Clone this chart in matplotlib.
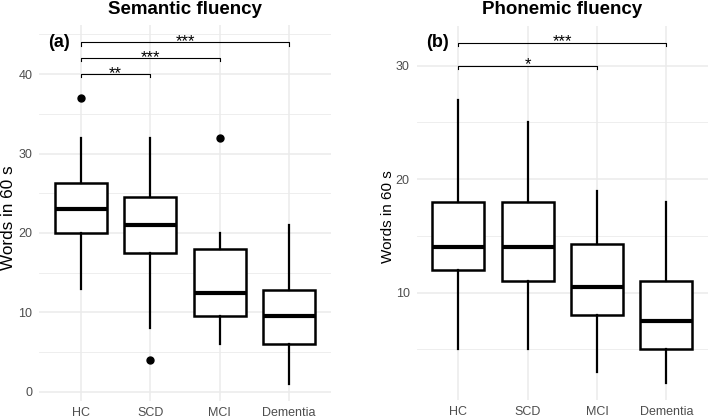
import matplotlib
matplotlib.use("Agg")
import matplotlib.pyplot as plt

plt.rcParams["font.family"] = ["Liberation Sans", "DejaVu Sans"]

groups = ["HC", "SCD", "MCI", "Dementia"]

# semantic fluency: box stats
sem_whislo = [13, 8, 6, 1]
sem_q1 = [20, 17.5, 9.5, 6]
sem_med = [23, 21, 12.5, 9.5]
sem_q3 = [26.3, 24.5, 18, 12.8]
sem_whishi = [32, 32, 20, 21]
sem_fliers = [[37], [4], [32], []]
sem_sig = [("HC", "SCD", 40, "**"), ("HC", "MCI", 42, "***"),
           ("HC", "Dementia", 44, "***")]

# phonemic fluency
pho_whislo = [5, 5, 3, 2]
pho_q1 = [12, 11, 8, 5]
pho_med = [14, 14, 10.5, 7.5]
pho_q3 = [18, 18, 14.25, 11]
pho_whishi = [27, 25, 19, 18]
pho_fliers = [[], [], [], []]
pho_sig = [("HC", "MCI", 30, "*"), ("HC", "Dementia", 32, "***")]

GRID = "#EBEBEB"
TICK = "#4D4D4D"


def panel(ax, lo, q1, med, q3, hi, fl, sig, ylim, major, minor, tip,
          title, tag, tag_x):
    stats = [dict(whislo=a, q1=b, med=c, q3=d, whishi=e, fliers=f)
             for a, b, c, d, e, f in zip(lo, q1, med, q3, hi, fl)]
    pos = list(range(1, len(groups) + 1))
    ax.bxp(stats, positions=pos, widths=0.75, showcaps=False,
           patch_artist=True,
           boxprops=dict(facecolor="white", edgecolor="black", linewidth=1.8),
           whiskerprops=dict(color="black", linewidth=1.6),
           medianprops=dict(color="black", linewidth=3.0),
           flierprops=dict(marker="o", markerfacecolor="black",
                           markeredgecolor="black", markersize=5))
    ax.set_xlim(0.4, 4.6)
    ax.set_ylim(*ylim)
    ax.set_xticks(pos)
    ax.set_xticklabels(groups)
    ax.set_yticks(major)
    ax.set_yticks(minor, minor=True)
    ax.grid(True, which="major", color=GRID, linewidth=1.1, zorder=0)
    ax.grid(True, which="minor", axis="y", color=GRID, linewidth=0.6, zorder=0)
    ax.set_axisbelow(True)
    for s in ax.spines.values():
        s.set_visible(False)
    ax.tick_params(which="both", length=0, labelsize=9, labelcolor=TICK)
    ax.tick_params(axis="y", pad=5)
    ax.tick_params(axis="x", pad=4)
    for g1, g2, y, lab in sig:
        x1, x2 = groups.index(g1) + 1, groups.index(g2) + 1
        ax.plot([x1, x1, x2, x2], [y - tip, y, y, y - tip], color="black",
                linewidth=0.8, clip_on=False, zorder=3)
        ax.annotate(lab, ((x1 + x2) / 2, y), xytext=(0, -2.6),
                    textcoords="offset points", ha="center", va="baseline",
                    fontsize=12)
    ax.set_title(title, fontsize=13.5, fontweight="bold", pad=8.3)
    ax.text(tag_x, 0.955, tag, transform=ax.transAxes, fontsize=13,
            fontweight="bold", ha="left", va="center")


fig = plt.figure(figsize=(7.08, 4.19), dpi=100)
ax1 = fig.add_axes([0.0555, 0.0427, 0.4116, 0.8973])
ax2 = fig.add_axes([0.5886, 0.0442, 0.4113, 0.8938])

panel(ax1, sem_whislo, sem_q1, sem_med, sem_q3, sem_whishi, sem_fliers,
      sem_sig, (-1.15, 46.15), [0, 10, 20, 30, 40], [5, 15, 25, 35, 45], 0.42,
      "Semantic fluency", "(a)", 0.03)
panel(ax2, pho_whislo, pho_q1, pho_med, pho_q3, pho_whishi, pho_fliers,
      pho_sig, (0.5, 33.5), [10, 20, 30], [5, 15, 25], 0.3,
      "Phonemic fluency", "(b)", 0.032)

fig.text(9 / 708, 1 - 218 / 419, "Words in 60 s", rotation=90, fontsize=12.3,
         ha="center", va="center")
fig.text(388 / 708, 1 - 217 / 419, "Words in 60 s", rotation=90, fontsize=11,
         ha="center", va="center")

fig.savefig("out.png", dpi=100)
